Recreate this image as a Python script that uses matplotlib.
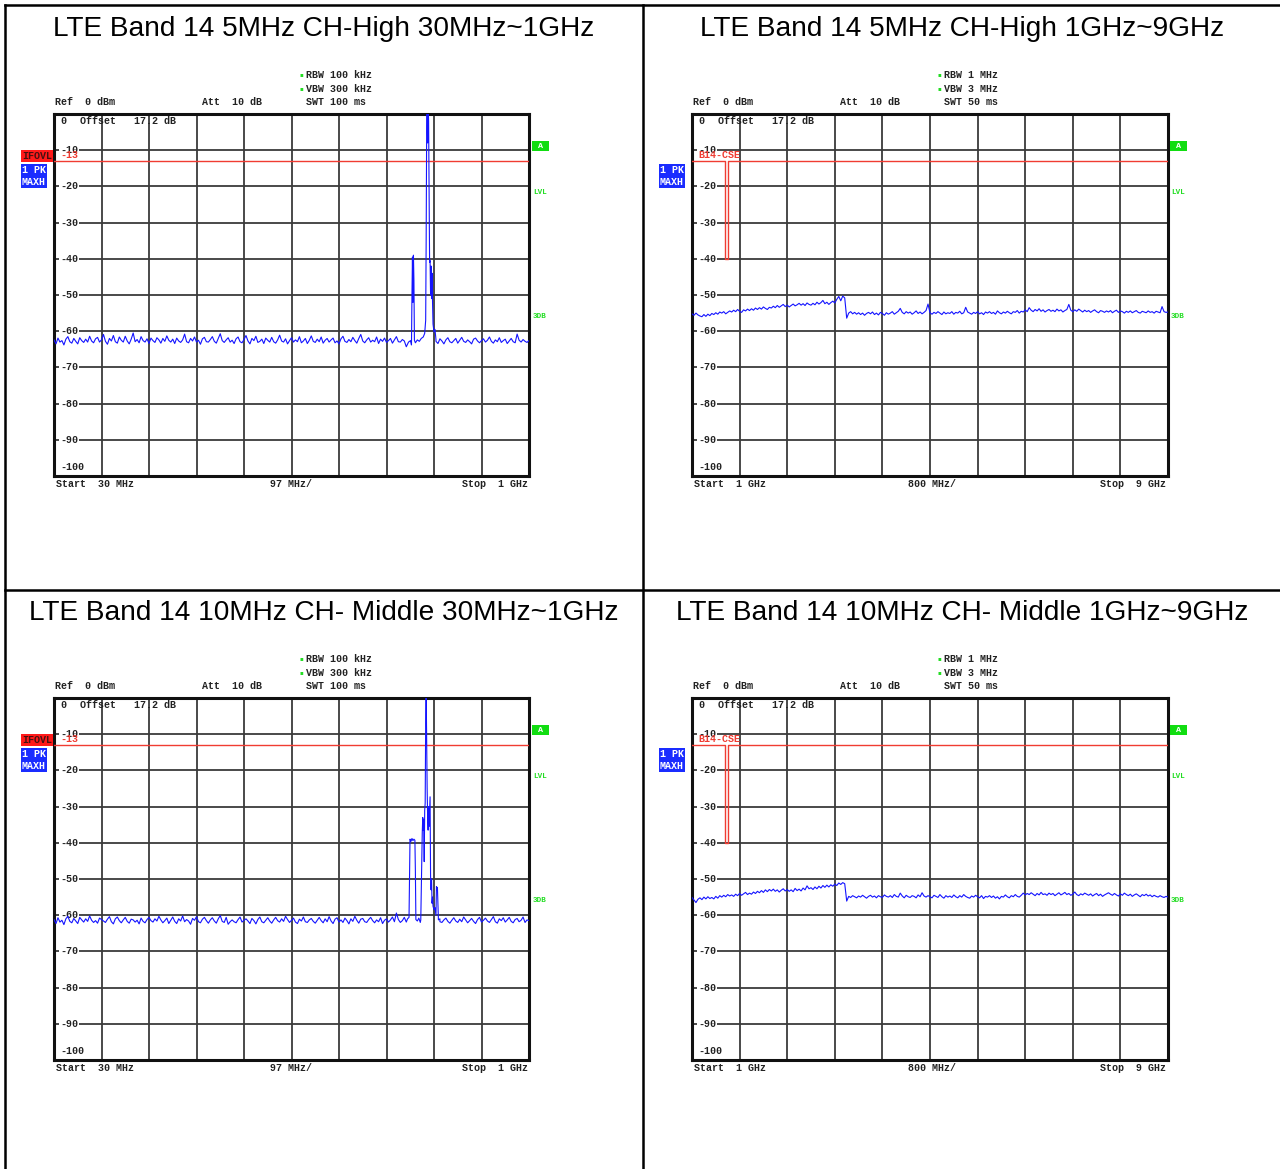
import numpy as np
import matplotlib
matplotlib.use('Agg')
import matplotlib.pyplot as plt
from matplotlib.lines import Line2D

W, H = 1280, 1169

titles = ['LTE Band 14 5MHz CH-High 30MHz~1GHz',
          'LTE Band 14 5MHz CH-High 1GHz~9GHz',
          'LTE Band 14 10MHz CH- Middle 30MHz~1GHz',
          'LTE Band 14 10MHz CH- Middle 1GHz~9GHz']

# sweep spans, 241 points each
low_span = (30, 1000)    # MHz
high_span = (1, 9)       # GHz

# ---- panel 1: 5MHz CH-High, 30 MHz - 1 GHz (dBm)
p1_base = [-62.4, -63.5, -61.9, -63.0, -62.6, -63.8, -62.2, -61.5, -62.9, -63.3,
           -62.0, -62.8, -63.5, -61.8, -62.6, -63.1, -62.2, -63.0, -61.4, -62.7,
           -63.2, -62.1, -61.7, -63.0, -62.4, -60.9, -62.8, -63.6, -62.0, -62.7,
           -61.2, -62.9, -63.3, -61.6, -62.5, -63.0, -61.4, -62.7, -63.5, -62.2,
           -60.5, -62.9, -62.3, -63.2, -61.5, -62.6, -63.0, -62.1, -63.4, -61.9,
           -62.6, -63.1, -61.8, -62.4, -63.3, -62.0, -62.8, -61.3, -62.5, -63.0,
           -62.2, -63.4, -61.9, -62.7, -63.1, -62.4, -60.8, -62.9, -63.2, -62.0,
           -62.7, -61.6, -63.0, -62.5, -63.6, -62.1, -61.7, -62.9, -63.0, -62.3,
           -61.5, -62.8, -63.3, -62.0, -60.7, -62.6, -63.1, -62.4, -61.8, -63.0,
           -62.5, -63.4, -62.1, -61.6, -62.9, -63.2, -62.3, -61.2, -62.7, -63.5,
           -62.0, -62.6, -61.4, -63.1, -62.8, -62.2, -63.4, -61.9, -62.5, -63.0,
           -61.7, -62.9, -63.3, -62.4, -61.1, -62.7, -63.0, -62.1, -63.5, -62.6,
           -61.8, -63.0, -62.4, -62.9, -61.5, -63.2, -62.7, -62.0, -63.4, -62.5,
           -61.3, -62.8, -63.1, -62.2, -62.9, -61.6, -63.3, -62.5, -62.0, -63.0,
           -62.4, -61.9, -63.2, -62.7, -63.5, -62.1, -61.4, -62.8, -63.1, -62.3,
           -62.9, -61.7, -62.6, -63.3, -62.0, -60.9, -62.7, -63.2, -62.4, -61.8,
           -63.0, -62.5, -62.9, -61.6, -63.4, -62.2, -62.8, -61.9, -63.1, -62.6,
           -62.0, -63.3, -62.4, -61.5, -62.9, -63.0, -62.3, -62.7, -64.3, -63.1,
           -62.6, -63.4, -62.2, -62.8, -63.0, -62.5, -62.9, -63.2, -62.4, -62.7,
           -63.0, -62.6, -62.3, -62.8, -63.4, -62.1, -62.7, -63.5, -62.4, -61.8,
           -62.9, -63.2, -62.6, -62.0, -63.3, -62.5, -61.7, -62.8, -63.1, -62.4,
           -62.9, -63.5, -62.2, -61.9, -62.7, -63.2, -62.6, -62.1, -63.0, -62.5,
           -61.6, -62.8, -63.3, -62.4, -62.9, -61.8, -63.1, -62.6, -62.2, -63.4,
           -62.7, -62.0, -62.9, -63.2, -60.8, -62.5, -63.0, -62.3, -62.8, -63.1,
           -62.6]
p1_peak_f = [754, 758, 760, 761, 762, 763, 764, 765, 766, 768, 772, 776, 780, 784, 787,
             789, 790, 791, 792, 793, 794, 795, 796, 797, 798, 799, 800, 801, 802, 803,
             804, 806, 808, 810]
p1_peak_l = [-63.0, -62.6, -63.8, -50.0, -39.5, -52.0, -39.0, -46.0, -62.5, -63.2,
             -62.4, -62.8, -62.0, -61.6, -60.6, -57.0, -35.0, -5.0, 3.0, -8.0,
             3.0, -2.0, -20.0, -41.0, -40.5, -50.0, -42.0, -51.0, -44.0, -52.0,
             -58.0, -60.2, -59.5, -62.3]

# ---- panel 2: 5MHz CH-High, 1 GHz - 9 GHz (dBm)
p2_base = [-55.2, -55.6, -55.0, -55.5, -55.8, -56.0, -55.4, -55.9, -55.3, -55.7,
           -55.1, -55.4, -54.9, -55.3, -54.7, -55.0, -54.6, -55.2, -54.8, -54.4,
           -54.7, -54.2, -54.6, -54.0, -54.5, -54.8, -54.1, -54.4, -53.9, -54.3,
           -53.8, -54.2, -53.6, -54.0, -53.5, -53.9, -53.3, -53.7, -54.0, -53.4,
           -53.6, -53.1, -53.5, -52.9, -53.4, -53.0, -52.6, -53.2, -52.8, -53.3,
           -52.9, -52.5, -53.0, -52.7, -52.3, -52.8, -52.4, -52.9, -52.2, -52.6,
           -52.8, -52.3, -52.7, -52.0, -52.5, -52.1, -51.5, -52.4, -52.0, -52.6,
           -52.1, -51.7, -52.2, -51.2, -50.4, -51.6, -50.3, -50.8,
           -56.4,
           -55.0, -54.6, -55.2, -54.8, -55.3, -54.9, -55.4, -55.0, -55.6, -55.1, -54.8,
           -55.2, -54.7, -55.4, -55.0, -55.5, -54.8, -55.1, -55.6, -54.9, -55.3,
           -55.0, -54.6, -55.3, -54.9, -54.5, -53.7, -54.8, -55.2, -54.6, -55.0,
           -54.7, -55.3, -54.9, -54.4, -55.1, -54.7, -55.2, -54.8, -54.3, -52.5,
           -54.9, -55.3, -54.8, -55.1, -54.6, -55.0, -55.4, -54.7, -55.2, -54.9,
           -55.1, -54.6, -55.3, -54.8, -55.0, -54.5, -55.2, -54.9, -53.4, -54.7,
           -55.0, -55.3, -54.8, -55.1, -54.6, -55.2, -54.9, -55.4, -54.7, -55.0,
           -54.6, -55.1, -54.8, -55.3, -54.4, -54.9, -55.2, -54.7, -55.0, -54.5,
           -54.9, -55.2, -54.6, -54.8, -54.3, -55.0, -54.5, -54.7, -54.1, -54.6,
           -53.5, -54.2, -54.6, -54.0, -54.4, -53.8, -54.5, -54.1, -54.7, -54.3,
           -54.0, -54.5, -54.2, -54.6, -53.9, -54.4, -54.1, -54.7, -54.3, -54.0,
           -52.6, -54.2, -54.6, -54.1, -54.5, -53.9, -54.3, -54.7, -54.2, -54.6,
           -54.3, -54.8, -54.4, -54.1, -54.6, -54.9, -54.3, -54.5, -54.8, -54.4,
           -54.7, -54.3, -54.9, -54.5, -54.2, -54.8, -54.4, -54.6, -55.0, -54.5,
           -54.8, -54.4, -54.9, -54.6, -54.3, -54.8, -55.0, -54.5, -54.7, -54.9,
           -54.4, -54.8, -54.6, -55.0, -54.5, -54.7, -54.9, -53.2, -54.6, -54.8,
           -54.7]

# ---- panel 3: 10MHz CH-Middle, 30 MHz - 1 GHz (dBm)
p3_base = [-61.2, -62.3, -60.7, -61.9, -61.4, -62.6, -61.0, -60.3, -61.7, -62.1,
           -60.9, -61.6, -62.3, -60.6, -61.3, -61.9, -61.0, -61.7, -60.2, -61.4,
           -62.0, -61.5, -62.2, -60.8, -61.2, -61.6, -62.0, -61.1, -60.4, -61.8,
           -62.4, -61.0, -60.5, -61.5, -62.1, -61.3, -60.6, -61.7, -62.2, -61.1,
           -61.3, -61.9, -61.4, -62.4, -60.8, -61.7, -62.1, -61.2, -60.6, -61.5,
           -61.9, -61.0, -61.6, -60.3, -61.3, -62.1, -61.5, -60.8, -62.3, -61.4,
           -60.5, -61.7, -62.3, -61.0, -61.6, -60.2, -61.8, -61.2, -61.6, -62.5,
           -60.9, -61.4, -60.4, -61.8, -62.1, -61.1, -60.6, -61.5, -62.2, -61.3,
           -60.7, -61.6, -62.2, -61.0, -60.1, -61.7, -62.0, -60.6, -62.5, -61.8,
           -61.3, -61.8, -62.1, -61.2, -60.5, -61.9, -61.4, -61.0, -61.6, -62.3,
           -60.9, -61.5, -62.4, -61.2, -60.5, -61.8, -62.1, -61.4, -60.7, -61.6,
           -62.2, -61.3, -60.6, -61.5, -61.9, -61.0, -61.7, -60.3, -61.2, -62.0,
           -61.4, -60.8, -61.9, -62.3, -61.1, -61.6, -60.5, -61.8, -62.0, -61.3,
           -60.9, -61.7, -62.2, -61.4, -60.6, -61.5, -62.1, -61.0, -61.8, -60.4,
           -61.6, -62.3, -61.1, -60.7, -61.9, -61.3, -62.0, -60.8, -61.5, -62.4,
           -61.0, -61.7, -60.3, -61.4, -62.2, -61.1, -60.9, -61.8, -62.0, -61.2,
           -60.6, -61.5, -62.1, -61.3, -61.8, -60.7, -62.3, -61.4, -61.0, -61.9,
           -61.3, -60.5, -61.8, -59.4, -61.2, -62.0, -61.5, -60.6, -61.9, -61.1,
           -61.6, -62.1, -61.0, -61.5, -61.8, -61.3, -61.0, -61.7, -61.4, -61.2,
           -61.5, -61.9, -61.2, -61.6, -61.0, -61.8, -62.0, -61.3, -60.8, -61.7,
           -62.2, -61.4, -60.7, -61.6, -62.0, -61.1, -61.8, -60.5, -61.3, -62.1,
           -61.5, -60.9, -61.7, -62.3, -61.2, -60.6, -61.9, -61.4, -60.8, -61.6,
           -62.0, -61.2, -60.4, -61.8, -62.2, -61.0, -61.5, -60.7, -61.9, -61.3,
           -60.6, -61.7, -62.1, -61.2, -60.9, -61.8, -61.4, -60.5, -62.0, -61.3,
           -61.5]
p3_peak_f = [752, 755, 756, 757, 759, 761, 763, 765, 767, 768,
             769, 772, 775, 778, 779, 780, 781, 782, 783, 784,
             785, 786, 787, 788, 789, 790, 791, 792, 793, 794,
             795, 796, 797, 798, 799, 800, 801, 802, 803, 804,
             806, 808, 810, 811, 812, 813, 815, 818]
p3_peak_l = [-61.0, -60.6, -50.0, -39.0, -39.6, -38.8, -39.4, -39.0, -39.3, -48.0,
             -61.2, -61.6, -60.8, -62.0, -61.3, -53.0, -45.0, -37.3, -33.0, -36.5,
             -33.5, -45.2, -31.0, -29.0, -7.0, 2.0, -12.0, -25.0, -33.0, -36.5,
             -30.0, -35.5, -31.0, -27.3, -49.4, -53.0, -50.0, -56.7, -55.0, -57.5,
             -58.5, -57.9, -60.0, -52.1, -53.0, -52.3, -61.3, -61.0]

# ---- panel 4: 10MHz CH-Middle, 1 GHz - 9 GHz (dBm)
p4_base = [-55.1, -55.8, -56.5, -55.6, -55.2, -55.7, -55.0, -55.5, -54.9, -55.4,
           -55.1, -55.5, -54.8, -55.3, -54.6, -55.0, -54.5, -54.9, -54.3, -54.7,
           -54.4, -54.8, -54.2, -54.6, -54.0, -54.5, -54.1, -53.7, -54.3, -53.9,
           -54.2, -53.6, -54.0, -53.4, -53.8, -53.2, -53.7, -53.0, -53.5, -52.9,
           -53.3, -52.8, -53.4, -53.0, -53.6, -53.1, -52.7, -53.3, -52.9, -53.4,
           -53.0, -53.5, -52.6, -53.2, -52.8, -53.3, -52.5, -53.0, -51.9, -52.7,
           -52.4, -52.9, -52.2, -52.7, -52.0, -52.5, -51.8, -52.3, -51.7, -52.2,
           -51.6, -52.0, -51.4, -51.8, -51.1, -51.5, -51.0, -51.3,
           -56.1,
           -54.8, -55.1, -54.6, -54.9, -55.2, -54.7, -55.0, -54.5, -54.9, -55.3, -54.8,
           -54.5, -55.0, -54.7, -55.2, -54.6, -54.9, -55.1, -54.4, -54.8, -55.0,
           -54.6, -55.1, -54.3, -54.8, -55.0, -53.9, -54.7, -55.2, -54.5, -54.9,
           -55.1, -54.6, -54.8, -55.2, -54.4, -54.9, -53.8, -54.7, -55.0, -54.6,
           -54.9, -55.2, -54.5, -54.8, -55.1, -54.3, -54.9, -55.3, -54.6, -55.0,
           -54.7, -55.1, -54.4, -54.9, -55.2, -54.6, -55.0, -54.3, -54.8, -55.1,
           -55.3, -54.7, -55.0, -54.5, -54.9, -55.2, -54.6, -55.4, -54.8, -55.0,
           -54.6, -55.1, -54.7, -55.3, -54.9, -55.5, -54.8, -55.0, -54.4, -54.9,
           -55.2, -54.6, -54.9, -54.3, -54.8, -55.0, -54.5, -53.9, -54.4, -54.0,
           -54.3, -53.8, -54.2, -54.6, -54.0, -54.4, -53.7, -54.3, -54.1, -54.5,
           -53.9, -54.3, -54.0, -54.6, -54.2, -53.8, -54.4, -54.1, -53.7, -54.3,
           -54.0, -54.5, -54.2, -53.6, -54.3, -54.6, -54.1, -54.4, -53.9, -54.2,
           -54.5, -54.1, -54.7, -54.3, -54.0, -54.6, -54.2, -54.8, -54.4, -54.1,
           -53.8, -54.2, -54.5, -54.0, -54.4, -54.7, -54.1, -54.5, -53.9, -54.3,
           -54.6, -54.2, -54.8, -54.4, -54.1, -54.5, -54.9, -54.3, -54.6, -54.2,
           -54.7, -54.4, -54.9, -54.5, -54.8, -55.0, -54.6, -54.9, -55.1, -54.8,
           -55.0]

# limit lines
low_limit_f = [30, 1000]
low_limit_l = [-13, -13]
high_limit_f = [1, 1.559, 1.559, 1.61, 1.61, 9]
high_limit_l = [-13, -13, -40, -40, -13, -13]

y_labels = [-10, -20, -30, -40, -50, -60, -70, -80, -90]

BLUE = '#1414ff'
RED = '#f03c32'
GREEN = '#22dd22'
MONO = dict(family='Liberation Mono', weight='bold', fontsize=7.2)


def build_trace(span, base, peak_f=None, peak_l=None):
    grid = np.linspace(span[0], span[1], len(base))
    base = np.array(base)
    if peak_f is None:
        return grid, base
    lo = grid < peak_f[0]
    hi = grid > peak_f[-1]
    f = np.concatenate([grid[lo], peak_f, grid[hi]])
    l = np.concatenate([base[lo], peak_l, base[hi]])
    return f, l


def note(ax, s, dx, dy, color='#222222', **kw):
    # dx, dy: pixels from top-left corner of the plot box (dy downward)
    opts = dict(MONO)
    opts.update(kw)
    ax.annotate(s, xy=(0, 1), xycoords='axes fraction', xytext=(dx, -dy),
                textcoords='offset pixels', ha='left', va='center',
                color=color, annotation_clip=False, **opts)


def panel(ax, f, lvl, span, step, lim_f, lim_l, lim_label, ifovl,
          rbw, vbw, swt, start, stop, div):
    ax.set_xlim(span)
    ax.set_ylim(-100, 0)
    ax.set_xticks([span[0] + step * k for k in range(1, 10)])
    ax.set_yticks(y_labels)
    ax.grid(True, color='#3a3a3a', lw=1.3)
    ax.tick_params(length=0, labelbottom=False, labelleft=False)
    for s in ax.spines.values():
        s.set_linewidth(2.2)
        s.set_color('#111111')

    ax.plot(lim_f, lim_l, color=RED, lw=1.0, zorder=3)
    ax.plot(f, lvl, color=BLUE, lw=0.8, zorder=4)

    tr = ax.get_yaxis_transform()
    for v in y_labels:
        ax.text(0.013, v, str(v), transform=tr, ha='left', va='center',
                color='#222222',
                bbox=dict(facecolor='white', edgecolor='none', pad=0.6),
                zorder=2.5, **MONO)
    ax.text(0.013, -97.5, '-100', transform=tr, ha='left', va='center',
            color='#222222', **MONO)
    # limit line name, drawn over the -10 label as on the analyzer screen
    ax.text(0.013, -11.3, lim_label, transform=tr, ha='left', va='center',
            color=RED, zorder=5, **MONO)

    note(ax, '0', 6, 7)
    note(ax, 'Offset   17.2 dB', 26, 7)
    note(ax, 'Ref  0 dBm', 1, -12)
    note(ax, 'Att  10 dB', 148, -12)
    note(ax, 'SWT ' + swt, 252, -12)
    note(ax, 'RBW ' + rbw, 252, -39)
    note(ax, 'VBW ' + vbw, 252, -25)
    note(ax, '\u25aa', 245, -39, color=GREEN, family='DejaVu Sans', fontsize=4)
    note(ax, '\u25aa', 245, -25, color=GREEN, family='DejaVu Sans', fontsize=4)
    note(ax, 'Start  ' + start, 2, 370)
    note(ax, div, 216, 370)
    note(ax, 'Stop  ' + stop, 408, 370)

    if ifovl:
        note(ax, 'IFOVL', -32, 42, color='#441111',
             bbox=dict(facecolor='#ff1a1a', edgecolor='none', pad=0.8))
    note(ax, '1 PK', -32, 56, color='white',
         bbox=dict(facecolor='#1a2cff', edgecolor='none', pad=0.8))
    note(ax, 'MAXH', -32, 68, color='white',
         bbox=dict(facecolor='#1a2cff', edgecolor='none', pad=0.8))
    note(ax, ' A ', 479, 32, color='white', fontsize=6,
         bbox=dict(facecolor='#11dd11', edgecolor='none', pad=1.0))
    note(ax, 'LVL', 479, 78, color=GREEN, fontsize=5.5)
    note(ax, '3DB', 479, 203, color=GREEN, fontsize=5.5)


fig = plt.figure(figsize=(W / 100, H / 100), dpi=100)


def box(x0, y0, w, h):
    return [x0 / W, 1 - (y0 + h) / H, w / W, h / H]


# table borders
for xs, ys in [((5, 5), (5, H)), ((643, 643), (5, H)),
               ((5, W), (5, 5)), ((5, W), (590, 590))]:
    fig.add_artist(Line2D([x / W for x in xs], [1 - y / H for y in ys],
                          color='black', lw=1.8))

cells = [(324, 29), (962, 29), (324, 613), (962, 613)]
for t, (cx, cy) in zip(titles, cells):
    fig.text(cx / W, 1 - cy / H, t, ha='center', va='center',
             family='Liberation Sans', fontsize=20.2)

f1, l1 = build_trace(low_span, p1_base, p1_peak_f, p1_peak_l)
f2, l2 = build_trace(high_span, p2_base)
f3, l3 = build_trace(low_span, p3_base, p3_peak_f, p3_peak_l)
f4, l4 = build_trace(high_span, p4_base)

ax1 = fig.add_axes(box(54, 114, 475, 362))
panel(ax1, f1, l1, low_span, 97, low_limit_f, low_limit_l, '-13', True,
      '100 kHz', '300 kHz', '100 ms', '30 MHz', '1 GHz', '97 MHz/')
ax2 = fig.add_axes(box(692, 114, 476, 362))
panel(ax2, f2, l2, high_span, 0.8, high_limit_f, high_limit_l, 'B14-CSE', False,
      '1 MHz', '3 MHz', '50 ms', '1 GHz', '9 GHz', '800 MHz/')
ax3 = fig.add_axes(box(54, 698, 475, 362))
panel(ax3, f3, l3, low_span, 97, low_limit_f, low_limit_l, '-13', True,
      '100 kHz', '300 kHz', '100 ms', '30 MHz', '1 GHz', '97 MHz/')
ax4 = fig.add_axes(box(692, 698, 476, 362))
panel(ax4, f4, l4, high_span, 0.8, high_limit_f, high_limit_l, 'B14-CSE', False,
      '1 MHz', '3 MHz', '50 ms', '1 GHz', '9 GHz', '800 MHz/')

fig.savefig('out.png', dpi=100)
